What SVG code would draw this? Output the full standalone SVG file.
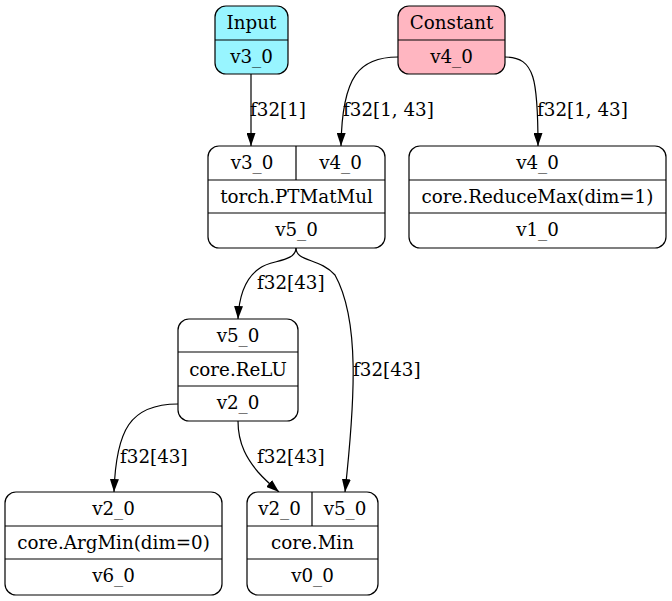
<svg xmlns="http://www.w3.org/2000/svg" width="672" height="601" viewBox="0 0 672 601">
<style>
text{font-family:"DejaVu Serif","Liberation Serif",serif;font-size:18.3px;text-anchor:middle;fill:#000}
.lbl{text-anchor:start}
.box{stroke:#000;stroke-width:1.2;fill:#fff}
.ln{stroke:#000;stroke-width:1.2;fill:none}
.e{stroke:#000;stroke-width:1.2;fill:none;marker-end:url(#ah)}
</style>
<defs>
<marker id="ah" markerWidth="13" markerHeight="9" refX="13" refY="4.5" orient="auto" markerUnits="userSpaceOnUse" viewBox="0 0 13 9">
<path d="M0,0 L13,4.5 L0,9 z" fill="#000"/>
</marker>
</defs>
<rect width="672" height="601" fill="#fff"/>
<g id="edges">
<path class="e" d="M251,74 L251,146"/>
<path class="e" d="M398,57 C360,57 342,75 341,146"/>
<path class="e" d="M505,57 C535,57 538,80 538,146"/>
<path class="e" d="M296,248 C296,262 270,260 260,268 C245,278 239,295 238,319"/>
<path class="e" d="M296,248 C296,262 320,258 335,275 C360,320 355,400 345,492"/>
<path class="e" d="M178,404 C130,404 116,430 114,492"/>
<path class="e" d="M238,421 C238,445 248,460 258,472 C265,480 272,486 279,492"/>
<text class="lbl" x="250" y="116">f32[1]</text>
<text class="lbl" x="343" y="116">f32[1, 43]</text>
<text class="lbl" x="537" y="116">f32[1, 43]</text>
<text class="lbl" x="257" y="289">f32[43]</text>
<text class="lbl" x="353" y="376">f32[43]</text>
<text class="lbl" x="120" y="463">f32[43]</text>
<text class="lbl" x="257" y="463">f32[43]</text>
</g>
<g id="input">
<rect x="215" y="6" width="73" height="68" rx="11" class="box" style="fill:#98f5ff"/>
<line x1="215" y1="40" x2="288" y2="40" class="ln"/>
<text x="251.5" y="29">Input</text>
<text x="251.5" y="63">v3_0</text>
</g>
<g id="constant">
<rect x="398" y="6" width="107" height="68" rx="11" class="box" style="fill:#ffb6c1"/>
<line x1="398" y1="40" x2="505" y2="40" class="ln"/>
<text x="451.5" y="29">Constant</text>
<text x="451.5" y="63">v4_0</text>
</g>
<g id="matmul">
<rect x="208" y="146" width="177" height="102" rx="11" class="box"/>
<line x1="208" y1="180" x2="385" y2="180" class="ln"/>
<line x1="208" y1="213" x2="385" y2="213" class="ln"/>
<line x1="296" y1="146" x2="296" y2="180" class="ln"/>
<text x="252" y="169">v3_0</text>
<text x="340.5" y="169">v4_0</text>
<text x="296.5" y="202.5">torch.PTMatMul</text>
<text x="296.5" y="236">v5_0</text>
</g>
<g id="reducemax">
<rect x="409" y="146" width="257" height="102" rx="11" class="box"/>
<line x1="409" y1="180" x2="666" y2="180" class="ln"/>
<line x1="409" y1="213" x2="666" y2="213" class="ln"/>
<text x="537.5" y="169">v4_0</text>
<text x="537.5" y="202.5">core.ReduceMax(dim=1)</text>
<text x="537.5" y="236">v1_0</text>
</g>
<g id="relu">
<rect x="178" y="319" width="120" height="102" rx="11" class="box"/>
<line x1="178" y1="352" x2="298" y2="352" class="ln"/>
<line x1="178" y1="386" x2="298" y2="386" class="ln"/>
<text x="238" y="342">v5_0</text>
<text x="238" y="375.5">core.ReLU</text>
<text x="238" y="409">v2_0</text>
</g>
<g id="argmin">
<rect x="5" y="492" width="217" height="103" rx="11" class="box"/>
<line x1="5" y1="526" x2="222" y2="526" class="ln"/>
<line x1="5" y1="559" x2="222" y2="559" class="ln"/>
<text x="113.5" y="515">v2_0</text>
<text x="113.5" y="548.5">core.ArgMin(dim=0)</text>
<text x="113.5" y="582">v6_0</text>
</g>
<g id="min">
<rect x="247" y="492" width="131" height="103" rx="11" class="box"/>
<line x1="247" y1="526" x2="378" y2="526" class="ln"/>
<line x1="247" y1="559" x2="378" y2="559" class="ln"/>
<line x1="312" y1="492" x2="312" y2="526" class="ln"/>
<text x="279.5" y="515">v2_0</text>
<text x="345" y="515">v5_0</text>
<text x="312.5" y="548.5">core.Min</text>
<text x="312.5" y="582">v0_0</text>
</g>
</svg>
